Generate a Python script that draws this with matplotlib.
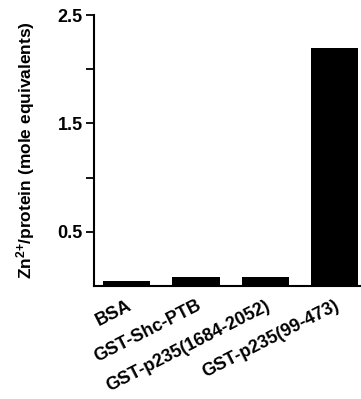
import numpy as np
import matplotlib.pyplot as plt

plt.rcParams['font.family'] = ['Liberation Sans', 'DejaVu Sans']
plt.rcParams['font.weight'] = 'bold'
plt.rcParams['mathtext.fontset'] = 'custom'
plt.rcParams['mathtext.bf'] = 'Liberation Sans:bold'
plt.rcParams['mathtext.rm'] = 'Liberation Sans:bold'
plt.rcParams['mathtext.default'] = 'bf'

labels = ["BSA", "GST-Shc-PTB", "GST-p235(1684-2052)", "GST-p235(99-473)"]
values = [0.045, 0.08, 0.08, 2.2]

yticks = [0.5, 1.0, 1.5, 2.0, 2.5]
yticklabels = ["0.5", "", "1.5", "", "2.5"]

fig = plt.figure(figsize=(3.61, 3.99), dpi=100)
ax = fig.add_axes([94/361, 1 - 286/399, (361-94)/361, (286-15)/399])

x = np.arange(len(labels))
ax.bar(x, values, width=0.68, color="black")

ax.set_xlim(-0.47, 3.38)
ax.set_ylim(0, 2.5)
ax.set_yticks(yticks)
ax.set_yticklabels(yticklabels, fontsize=13, fontweight="bold")
ax.set_xticks(x)
ax.set_xticklabels(labels, rotation=27, ha="right", rotation_mode="anchor",
                   fontsize=13, fontweight="bold")
ax.tick_params(axis="x", length=0, pad=8)
ax.tick_params(axis="y", direction="out", length=6, width=1.3, pad=2)

ax.spines["top"].set_visible(False)
ax.spines["right"].set_visible(False)
ax.spines["left"].set_linewidth(1.5)
ax.spines["bottom"].set_linewidth(1.5)

ax.set_ylabel("Zn$^{2{+}}$/protein (mole equivalents)", fontsize=12.5,
              fontweight="bold", labelpad=15)

fig.savefig("out.png", dpi=100)
